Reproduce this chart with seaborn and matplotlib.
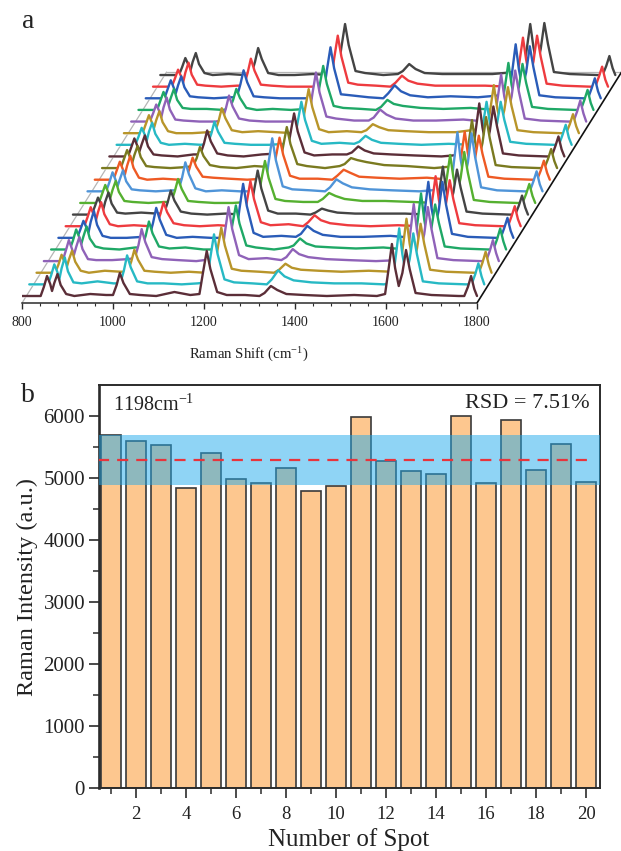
import numpy as np
import pandas as pd
import matplotlib
matplotlib.use('Agg')
import matplotlib.pyplot as plt
import seaborn as sns

# panel a: wavenumbers shared by all the spectra
raman_shift = [800, 825,
               841, 848, 855, 862, 866,
               871, 878, 885, 897,
               915, 950, 985,
               1000, 1008, 1015, 1023, 1037,
               1060, 1095, 1135, 1170,
               1190, 1198, 1206, 1214, 1229,
               1250, 1290, 1322,
               1333, 1347, 1361, 1381,
               1420, 1470, 1530, 1580,
               1598, 1606, 1613, 1620, 1628,
               1636, 1644, 1652, 1665,
               1700, 1760,
               1772, 1780, 1787, 1794, 1800]

# spectra, front to back
spectra = [
    [1,1, 1,10,21,13,6, 14,23,12,3, 1,3,2, 2,12,24,14,3, 2,1,5,2, 3,25,46,28,5, 2,2,1, 4,11,7,3, 2,1,2,1, 3,29,53,29,11, 24,47,28,4, 2,1, 1,10,21,8,1],
    [1,1, 1,10,21,13,6, 17,28,14,3, 2,4,2, 2,15,30,18,4, 2,2,1,2, 3,28,51,31,6, 3,2,1, 6,15,9,5, 3,2,2,1, 3,31,57,31,11, 26,52,31,4, 2,1, 1,11,22,9,1],
    [1,1, 1,9,19,11,6, 14,23,12,3, 1,3,2, 2,12,24,14,3, 2,1,2,1, 3,25,46,28,5, 3,2,1, 4,10,6,4, 3,2,3,2, 3,30,55,30,11, 25,50,30,4, 2,1, 1,11,22,9,1],
    [1,1, 1,11,22,13,7, 15,25,13,3, 2,2,3, 4,17,33,20,5, 3,2,1,3, 3,30,55,33,7, 3,4,2, 5,13,8,5, 3,2,1,2, 3,32,58,32,12, 28,55,33,4, 2,1, 1,11,22,9,1],
    [1,1, 1,10,21,13,6, 14,24,12,4, 2,1,3, 3,15,29,17,4, 2,3,1,1, 3,25,45,27,5, 3,1,3, 5,12,7,4, 3,2,3,1, 3,31,57,31,11, 23,46,28,4, 2,1, 1,11,22,9,1],
    [1,1, 1,9,18,11,6, 17,28,14,3, 1,1,2, 2,16,31,19,4, 1,2,1,1, 3,30,55,33,6, 2,3,2, 5,13,8,4, 2,2,3,1, 3,31,57,31,11, 29,57,34,5, 2,1, 1,11,21,8,1],
    [1,1, 1,10,20,12,6, 15,25,13,3, 1,2,1, 2,13,25,15,4, 2,1,2,1, 3,25,46,28,5, 2,3,1, 5,12,7,4, 2,1,2,1, 3,28,51,28,10, 24,47,28,4, 2,1, 1,11,21,8,1],
    [1,1, 1,9,18,11,5, 14,23,12,3, 2,3,2, 2,13,25,15,4, 2,1,2,1, 3,25,45,27,5, 2,2,1, 3,7,5,3, 2,2,2,1, 3,27,49,27,10, 23,46,28,4, 2,1, 1,10,20,8,1],
    [1,1, 1,10,19,11,6, 14,23,12,3, 2,1,2, 2,13,25,15,3, 2,1,1,2, 3,24,43,26,5, 3,2,2, 5,11,8,5, 3,3,2,1, 3,27,49,27,10, 26,52,31,4, 2,1, 1,10,20,8,1],
    [1,1, 1,10,20,12,6, 13,22,11,3, 2,1,2, 2,15,30,18,4, 1,2,1,1, 3,30,54,32,6, 3,2,1, 5,13,9,5, 3,2,1,3, 3,33,60,33,12, 30,59,35,5, 2,1, 1,11,21,8,1],
    [1,1, 1,10,19,11,6, 15,25,13,3, 1,2,1, 2,12,23,14,4, 3,2,1,2, 3,24,43,26,5, 2,2,1, 5,11,8,4, 3,2,3,1, 3,27,49,27,10, 23,45,27,4, 2,1, 1,10,20,8,1],
    [1,1, 1,10,19,11,6, 14,23,12,3, 2,1,2, 3,11,22,13,4, 2,1,3,2, 3,23,42,25,5, 3,1,3, 5,11,9,7, 4,3,1,3, 3,27,49,27,10, 26,52,31,4, 2,1, 1,10,20,8,1],
    [1,1, 1,10,19,11,6, 13,22,11,3, 2,1,3, 3,14,27,16,4, 2,1,3,4, 3,24,44,26,5, 2,3,3, 5,11,7,4, 3,2,1,3, 3,30,54,30,11, 26,51,31,4, 2,1, 1,11,21,8,1],
    [1,1, 1,9,18,11,5, 14,23,12,3, 1,2,1, 2,12,24,14,3, 2,1,1,2, 3,24,44,26,5, 2,3,2, 4,10,6,3, 2,1,2,1, 3,24,44,24,9, 22,44,26,4, 2,1, 1,11,21,8,1],
    [1,1, 1,10,19,11,6, 14,23,12,3, 1,1,2, 2,13,26,16,4, 2,3,2,1, 3,25,45,27,5, 2,3,2, 4,10,7,4, 3,2,2,5, 3,27,49,27,10, 24,47,28,4, 2,1, 1,10,20,8,1],
    [1,1, 1,9,18,11,5, 15,25,13,3, 2,1,1, 2,14,27,16,4, 2,1,1,1, 3,28,50,30,6, 4,2,2, 5,13,8,4, 2,2,3,1, 3,26,48,26,10, 26,52,31,4, 2,1, 1,11,22,9,1],
    [1,1, 1,10,19,11,6, 13,22,11,3, 2,2,1, 2,11,22,13,3, 1,2,1,2, 3,25,45,27,5, 3,2,1, 4,11,7,5, 3,2,3,1, 3,26,48,26,10, 24,47,28,4, 2,1, 1,11,21,8,1],
    [1,1, 1,10,19,11,6, 14,23,12,3, 2,1,2, 2,15,29,17,3, 2,1,1,1, 3,29,52,31,5, 4,2,1, 6,14,8,4, 2,3,2,4, 3,30,55,30,11, 27,53,32,4, 2,1, 1,11,21,8,1],
    [1,1, 1,9,18,11,5, 15,25,13,3, 2,1,2, 2,15,29,17,3, 2,1,1,1, 3,29,52,31,5, 3,2,1, 5,12,7,4, 2,2,2,1, 3,28,50,28,10, 26,52,31,4, 2,1, 1,11,21,8,1],
    [1,1, 1,9,18,11,5, 14,23,12,3, 1,2,1, 2,14,28,17,3, 1,1,2,1, 3,29,52,31,5, 3,1,2, 5,12,7,3, 2,2,2,4, 3,29,52,29,10, 27,53,32,4, 2,1, 1,10,20,8,1],
]
spectrum_colors = ['#5b2e38', '#27b9c4', '#b8952a', '#8f62b8', '#1fa866',
                   '#2a5cb8', '#ee3b3f', '#444444', '#55b030', '#4f94d8',
                   '#ee5a24', '#7a7a20', '#5b2e38', '#27b9c4', '#b8952a',
                   '#8f62b8', '#1fa866', '#2a5cb8', '#ee3b3f', '#444444']

# panel b
spots = list(range(1, 21))
intensity = [5690, 5600, 5535, 4835, 5410, 4980, 4915, 5165, 4790, 4870,
             5990, 5275, 5115, 5060, 6000, 4925, 5930, 5125, 5550, 4940]
mean_intensity = 5285
band_low = 4880
band_high = 5690

sns.set_style('ticks')
plt.rcParams['font.family'] = ['Liberation Serif', 'DejaVu Serif']
plt.rcParams['mathtext.fontset'] = 'stix'
plt.rcParams['mathtext.default'] = 'regular'
dark = '#2b2b2b'

W, H = 621, 851
fig = plt.figure(figsize=(W / 100, H / 100), dpi=100)

# waterfall, y axis is in pixels above the axis line
ax1 = fig.add_axes([22 / W, (H - 303) / H, 599 / W, 303 / H])
dx = 16.0    # cm-1 per spectrum
dy = 11.63
base = 6
for i in range(len(spectra) - 1, -1, -1):
    df = pd.DataFrame({'shift': np.array(raman_shift) + i * dx,
                       'y': np.array(spectra[i]) + base + i * dy})
    ax1.fill_between(df['shift'], base + i * dy, df['y'], color='white',
                     lw=0, zorder=3 + 2 * (len(spectra) - i))
    sns.lineplot(data=df, x='shift', y='y', color=spectrum_colors[i], lw=1.7,
                 sort=False, estimator=None, ax=ax1,
                 zorder=4 + 2 * (len(spectra) - i))

top = 231
run = top / dy * dx
ax1.plot([800, 800 + run], [0, top], color='#b5b5b5', lw=0.9, zorder=1)
ax1.plot([800 + run, 1800 + run], [top, top], color='#b5b5b5', lw=0.9, zorder=1)
ax1.plot([1800, 1800 + run], [0, top], color='#111111', lw=1.2, zorder=60)

ax1.set_xlim(800, 800 + 599 / 0.455)
ax1.set_ylim(0, 303)
sns.despine(ax=ax1, left=True, top=True, right=True)
ax1.spines['bottom'].set_bounds(800, 1800)
ax1.spines['bottom'].set_color(dark)
ax1.spines['bottom'].set_linewidth(1.1)
ax1.set_yticks([])
ax1.set_xticks(range(800, 1801, 200))
ax1.set_xticks(range(800, 1801, 40), minor=True)
ax1.tick_params(axis='x', which='major', length=4, width=1, labelsize=10,
                pad=5, color=dark, labelcolor='#222222')
ax1.tick_params(axis='x', which='minor', length=2.5, width=0.8, color=dark)
ax1.set_xlabel('')
ax1.set_ylabel('')
ax1.patch.set_alpha(0)
fig.text(249 / W, 1 - 355 / H, 'Raman Shift (cm$^{-1}$)', fontsize=10.7,
         ha='center', va='center', color='#222222')

# bars
ax2 = fig.add_axes([99 / W, (H - 788) / H, 501 / W, 403 / H])
sns.barplot(x=spots, y=intensity, native_scale=True, width=0.8, color='#fdc78f',
            saturation=1, edgecolor='#3a3a3a', linewidth=1.2, ax=ax2, zorder=2)
ax2.axhspan(band_low, band_high, color='#20aaec', alpha=0.5, lw=0, zorder=3)
ax2.plot([0.5, 20.3], [mean_intensity, mean_intensity], color='#e8343c', lw=1.6,
         dashes=(5, 3.6), zorder=4)
ax2.set_xlim(0.52, 20.56)
ax2.set_ylim(0, 6500)
ax2.set_xticks(range(2, 21, 2))
ax2.set_xticks(range(1, 21, 2), minor=True)
ax2.set_yticks(range(0, 6001, 1000))
ax2.set_yticks(range(500, 6000, 1000), minor=True)
ax2.tick_params(axis='both', which='major', length=7, width=1.2, color=dark,
                labelcolor='#222222')
ax2.tick_params(axis='y', which='major', labelsize=15, pad=3)
ax2.tick_params(axis='x', which='major', labelsize=13.5, pad=6)
ax2.tick_params(axis='both', which='minor', length=4, width=1.1, color=dark)
for side in ['left', 'right', 'top', 'bottom']:
    ax2.spines[side].set_color(dark)
    ax2.spines[side].set_linewidth(1.4)
ax2.spines['left'].set_linewidth(1.9)
ax2.set_xlabel('')
ax2.set_ylabel('')

fig.text(27 / W, 1 - 587 / H, 'Raman Intensity (a.u.)', fontsize=17.5,
         rotation=90, ha='center', va='center', color='#222222')
fig.text(349 / W, 1 - 840 / H, 'Number of Spot', fontsize=18,
         ha='center', va='center', color='#222222')
fig.text(113 / W, 1 - 405 / H, '1198cm$^{-1}$', fontsize=14.5,
         ha='left', va='center', color='#222222')
fig.text(590 / W, 1 - 404 / H, 'RSD = 7.51%', fontsize=16,
         ha='right', va='center', color='#222222')
fig.text(28 / W, 1 - 22 / H, 'a', fontsize=20, ha='center', va='center', color='#222222')
fig.text(28 / W, 1 - 395 / H, 'b', fontsize=20, ha='center', va='center', color='#222222')

fig.savefig('out.png', dpi=100)
